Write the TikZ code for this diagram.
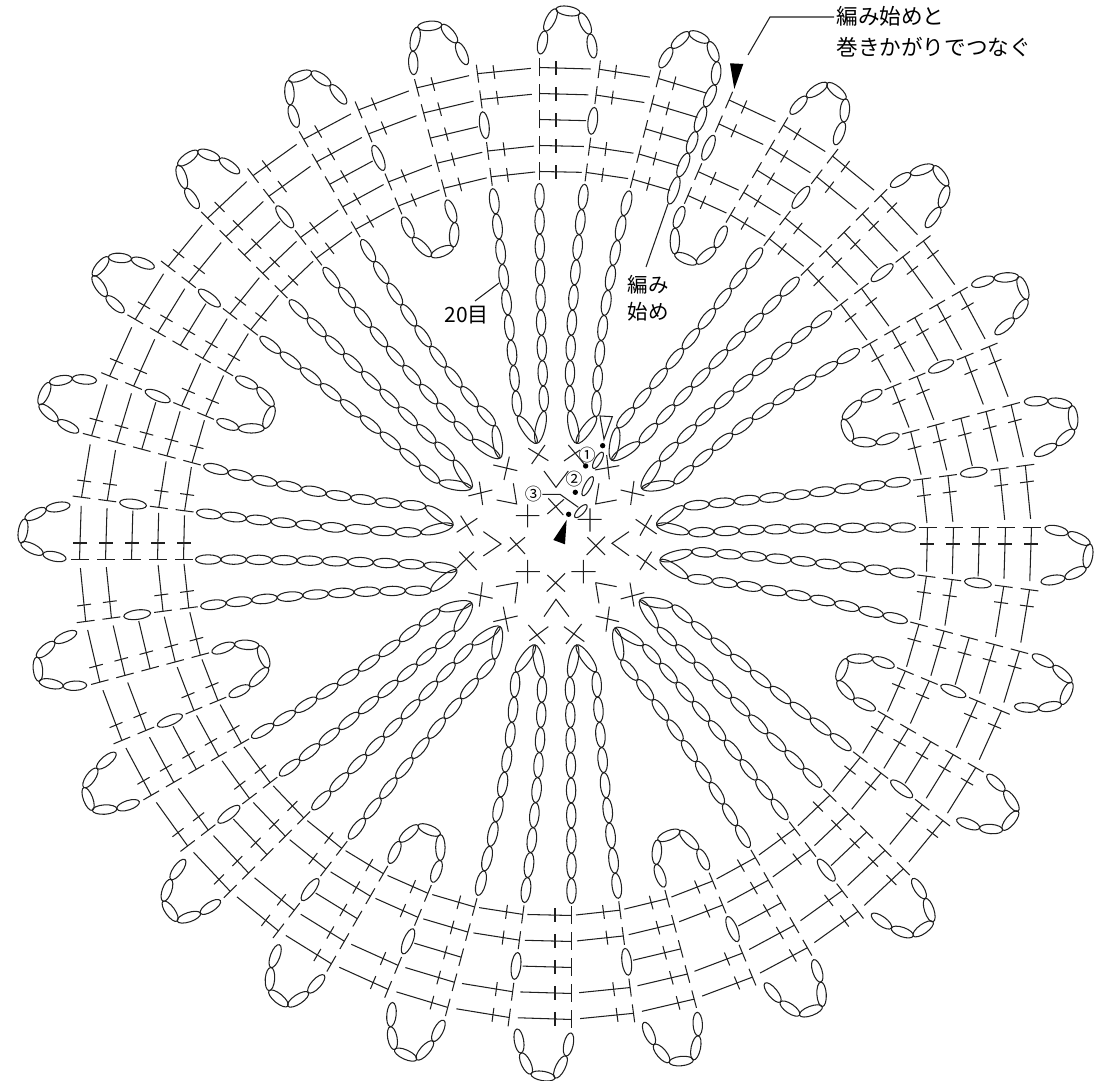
\documentclass[tikz,border=0pt]{standalone}
\usepackage{fontspec}
\newfontfamily\cjk{Noto Sans CJK JP}
\newcommand\ovw{4.7}
\newcommand\Oval[4]{%
  \pgfmathsetmacro\oA{atan2((#4)-(#2),(#3)-(#1))}%
  \pgfmathsetmacro\oL{veclen((#3)-(#1),(#4)-(#2))/2}%
  \pgfmathsetmacro\oX{((#1)+(#3))/2}%
  \pgfmathsetmacro\oY{((#2)+(#4))/2}%
  \draw[rotate around={\oA:(\oX,\oY)}] (\oX,\oY) ellipse ({\oL} and {\ovw});%
}
% column, apex x, apex y, side of the apex (-1 or 1)
\newcommand\Chain[4]{%
  \pgfmathsetmacro\pa{kphi(#1)}%
  \pgfmathsetmacro\sa{sin(\pa)}%
  \pgfmathsetmacro\ca{cos(\pa)}%
  \pgfmathsetmacro\xa{555.5+360*\sa-16*\ca}%
  \pgfmathsetmacro\ya{537.5+360*\ca+16*\sa}%
  \pgfmathsetmacro\xb{555.5+230*\sa-16*\ca}%
  \pgfmathsetmacro\yb{537.5+230*\ca+16*\sa}%
  \pgfmathsetmacro\rad{atan2(#2-555.5,#3-537.5)+#4*24}%
  \pgfmathsetmacro\xc{#2+33*sin(\rad)}%
  \pgfmathsetmacro\yc{#3+33*cos(\rad)}%
  \pgfmathsetmacro\qa{1.3}%
  \pgfmathsetmacro\qb{veclen(\xc-\xb,\yc-\yb)/100}%
  \foreach \i in {0,...,8}{%
    \pgfmathsetmacro\ua{\i/9}%
    \pgfmathsetmacro\ub{(\i+1)/9}%
    \pgfmathsetmacro\ta{(\qa-sqrt(\qa*\qa-(\qa-\qb)*(\qa+\qb)*\ua))/(\qa-\qb)}%
    \pgfmathsetmacro\tb{(\qa-sqrt(\qa*\qa-(\qa-\qb)*(\qa+\qb)*\ub))/(\qa-\qb)}%
    \pgfmathsetmacro\Xa{(1-\ta)*(1-\ta)*\xa+2*\ta*(1-\ta)*\xb+\ta*\ta*\xc}%
    \pgfmathsetmacro\Ya{(1-\ta)*(1-\ta)*\ya+2*\ta*(1-\ta)*\yb+\ta*\ta*\yc}%
    \pgfmathsetmacro\Xb{(1-\tb)*(1-\tb)*\xa+2*\tb*(1-\tb)*\xb+\tb*\tb*\xc}%
    \pgfmathsetmacro\Yb{(1-\tb)*(1-\tb)*\ya+2*\tb*(1-\tb)*\yb+\tb*\tb*\yc}%
    \Oval{\Xa}{\Ya}{\Xb}{\Yb}%
  }%
  \Oval{\xc}{\yc}{#2}{#3}%
}
\begin{document}
\begin{tikzpicture}[x=1pt,y=1pt,line width=1.05pt,color=black!88,
  declare function={kphi(\q)=(\q==1)?7.2:((\q==2)?14.4:((\q==3)?23.3:((\q==4)?30.5:7.5*\q)));},
  label text/.style={inner sep=0pt,text=black,align=left}]
\useasboundingbox (0,0) rectangle (1106,1081);
% ---- rows of stitches, outer and inner turning loops
\foreach \k in {0,...,47}{
  \pgfmathsetmacro\pa{kphi(\k)}
  \pgfmathsetmacro\pb{kphi(\k+1)}
  \pgfmathsetmacro\dl{\pb-\pa}
  \begin{scope}[shift={(555.5,537.5)},rotate=-\pa]
    \foreach \r/\j in {372/1,398/2,424/3,450/4,476/5}{
      \pgfmathtruncatemacro\isoval{(\j==3)&&(mod(\k,2)==1)?1:0}
      \ifnum\isoval=1
        \Oval{-16}{\r-13.5}{-16}{\r+13.5}
      \else
        \pgfmathsetmacro\nx{-16*cos(\dl)+\r*sin(\dl)+16}
        \pgfmathsetmacro\ny{\r*cos(\dl)+16*sin(\dl)-\r}
        \pgfmathsetmacro\dd{veclen(\nx,\ny)}
        \pgfmathsetmacro\ll{\k==2?0.68*\dd:\dd-4.5-(\r-372)*0.04}
        \pgfmathsetmacro\ex{\nx/\dd}
        \pgfmathsetmacro\ey{\ny/\dd}
        \draw (-16,\r-9) -- (-16,\r+9);
        \draw (-16,\r) -- ++({\ll*\ex},{\ll*\ey});
        \draw ({-16+16.5*\ex},{\r+16.5*\ey-7}) -- ({-16+16.5*\ex},{\r+16.5*\ey+7});
      \fi
    }
    % outer loop over even columns (column 2 has the long starting chain)
    \pgfmathtruncatemacro\isloop{(mod(\k,2)==0)&&(\k!=2)?1:0}
    \ifnum\isloop=1
      \Oval{-15.5}{489.5}{-10.5}{512.5}
      \Oval{-10.5}{512.5}{0.5}{534.5}
      \Oval{0.5}{534.5}{24.5}{530.5}
      \Oval{24.5}{530.5}{34.5}{509.5}
      \Oval{34.5}{509.5}{38.5}{485.5}
    \fi
    % inner loop, every sixth column
    \pgfmathtruncatemacro\isinner{mod(\k,6)==3?1:0}
    \ifnum\isinner=1
      \Oval{-16}{360}{-15}{337}
      \Oval{-15}{337}{-5}{313}
      \Oval{-5}{313}{19}{313}
      \Oval{19}{313}{30}{335}
      \Oval{30}{335}{31}{359}
    \fi
  \end{scope}
}
% ---- long starting chain
\Oval{660}{1013.3}{671.7}{1033.3}
\Oval{671.7}{1033.3}{689}{1048.7}
\Oval{689}{1048.7}{709}{1039.3}
\Oval{709}{1039.3}{717.3}{1019.3}
\Oval{717.3}{1019.3}{715}{996}
\Oval{715}{996}{705}{974.3}
\Oval{705}{974.3}{696}{949.3}
\Oval{696}{949.3}{688.3}{927.7}
\Oval{688.3}{927.7}{678.3}{904.3}
\Oval{678.3}{904.3}{669.3}{877}
% ---- radial chains
\foreach \ka/\kb/\ax/\ay in {47/0/536.7/637.7,1/2/576.7/637.7,5/6/611.7/621,7/8/641.7/592.7,
  11/12/656.7/556,13/14/660/521,17/18/640/481,19/20/615/453,23/24/576.7/436,25/26/535/436,
  29/30/500/454.3,31/32/471.7/478,35/36/456.7/511,37/38/453/556,41/42/471.7/593,43/44/500/623}{
  \Chain{\ka}{\ax}{\ay}{-1}
  \Chain{\kb}{\ax}{\ay}{1}
}
% ---- centre stitches (units of the 3x crop)
\begin{scope}[shift={(430,681)},x=0.3333pt,y=-0.3333pt]
\draw (295,145)--(355,182) (345,135)--(305,192)
 (402,183)--(450,150) (415,135)--(465,195)
 (190,195)--(262,212) (238,170)--(222,240)
 (495,210)--(568,197) (530,165)--(538,238)
 (115,288)--(187,270) (148,245)--(158,315)
 (572,270)--(643,287) (612,243)--(602,315)
 (200,300)--(260,312)--(250,250)
 (342,213)--(378,262)--(415,213)
 (507,250)--(497,312)--(560,300)
 (352,342)--(402,298) (355,295)--(400,345)
 (258,347)--(328,347) (293,313)--(293,382)
 (443,358)--(515,358) (480,325)--(480,395)
 (617,358)--(680,402) (665,345)--(630,407)
 (80,397)--(142,355) (92,347)--(130,407)
 (160,395)--(213,432)--(160,468)
 (233,455)--(285,412) (240,412)--(285,462)
 (470,465)--(525,410) (472,412)--(525,465)
 (597,395)--(546,430)--(597,467)
 (88,455)--(140,510) (80,505)--(132,455)
 (620,465)--(680,510) (630,510)--(665,455)
 (258,515)--(330,515) (293,480)--(293,550)
 (424,515)--(497,515) (460,480)--(460,550)
 (350,575)--(405,520) (352,525)--(405,575)
 (115,578)--(188,595) (157,547)--(148,620)
 (198,560)--(263,548)--(255,610)
 (497,548)--(560,560) (497,548)--(507,610)
 (572,597)--(643,578) (600,548)--(612,620)
 (342,650)--(378,598)--(417,650)
 (190,665)--(263,648) (220,620)--(235,695)
 (497,648)--(567,665) (538,620)--(528,695)
 (295,675)--(345,732) (355,680)--(298,722)
 (402,680)--(463,725) (455,672)--(408,732);
\fill[black] (518,137) circle (8) (467,198) circle (8) (436,277) circle (8) (416,343) circle (8);
\draw (510,48)--(547,50)--(522,118)--cycle;
\fill[black] (410,360)--(370,420)--(405,433)--cycle;
\end{scope}
\renewcommand\ovw{3.3}
\Oval{593.3}{612.7}{602.7}{628.7}
\Oval{582.7}{585.3}{592.7}{604.3}
\Oval{575}{563.7}{586.7}{576}
\renewcommand\ovw{4.7}
% ---- circled numbers
\node[label text,font=\cjk\fontsize{17}{17}\selectfont] (c1) at (587,626) {①};
\node[label text,font=\cjk\fontsize{17}{17}\selectfont] (c2) at (574,602) {②};
\node[label text,font=\cjk\fontsize{17}{17}\selectfont] (c3) at (533.3,586.7) {③};
\coordinate (c3a) at (560,586.7);
\coordinate (c3b) at (578.3,573.7);
\draw (c3.east) -- (c3a) -- (c3b);
% ---- top marker
\fill[black] (730,1017.7) -- (743.3,1017) -- (734.3,992) -- cycle;
% ---- labels and leaders
\node[label text,anchor=north west,font=\cjk\fontsize{21.6}{30.5}\selectfont] (lstart) at (836,1075) {編み始めと\\巻きかがりでつなぐ};
\coordinate (la) at (834,1064);
\coordinate (lb) at (770,1064);
\coordinate (lc) at (748,1026);
\draw (la) -- (lb) -- (lc);
\node[label text,anchor=north west,font=\cjk\fontsize{20.5}{27}\selectfont] (lbegin) at (627,806) {編み\\始め};
\coordinate (ld) at (668,877);
\coordinate (le) at (646,814);
\draw (ld) -- (le);
\node[label text,anchor=west,font=\cjk\fontsize{21}{21}\selectfont] (ltwenty) at (444,766) {20目};
\coordinate (lf) at (499,798);
\coordinate (lg) at (475,780);
\draw (lf) -- (lg);
\end{tikzpicture}
\end{document}
